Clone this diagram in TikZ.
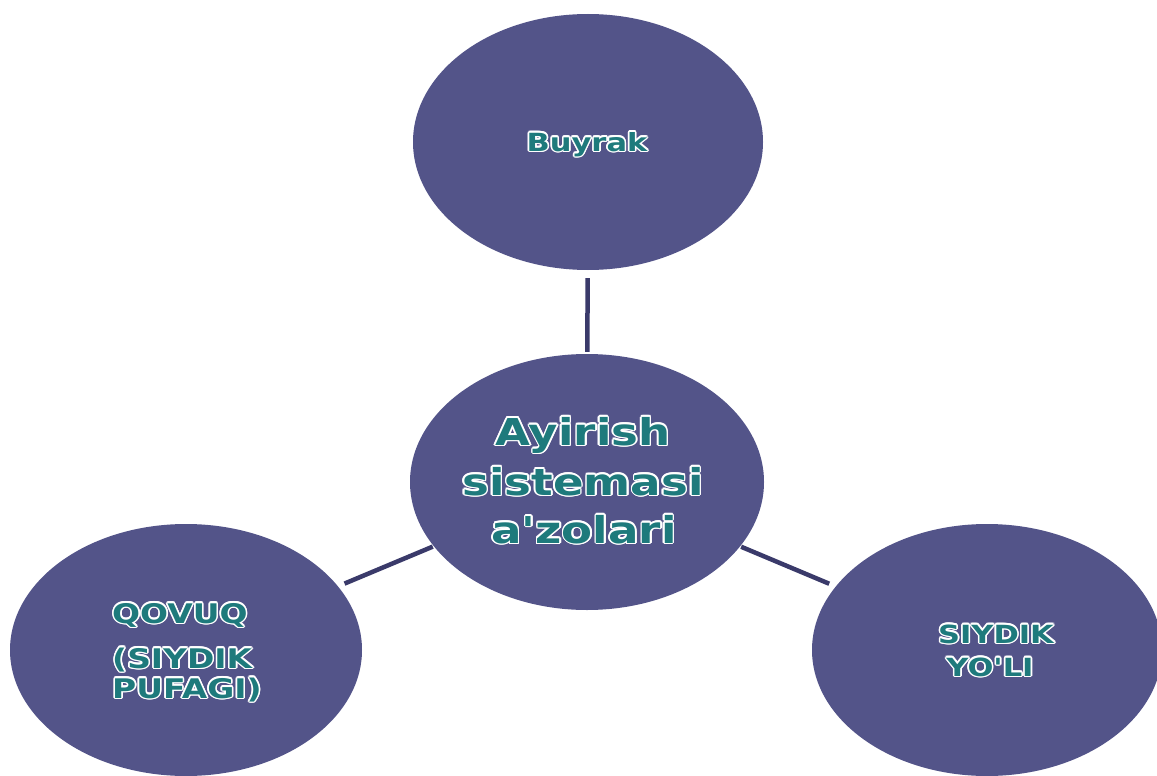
\documentclass[tikz,border=0pt]{standalone}
\usepackage{fontspec}
\usepackage{contour}
\usetikzlibrary{shapes.geometric}
\newfontfamily\wfont[FakeStretch=1.22]{DejaVu Sans}
\definecolor{ellfill}{RGB}{83,84,137}
\definecolor{lineC}{RGB}{58,58,106}
\definecolor{txtC}{RGB}{30,122,124}
\contourlength{1.6pt}
\contournumber{12}
\newcommand{\wart}[1]{\contour{white}{\textcolor{txtC}{#1}}}
\begin{document}
\begin{tikzpicture}[x=1pt,y=-1pt,
  ell/.style={ellipse, fill=ellfill, inner sep=0pt, minimum width=352pt, minimum height=254pt},
  link/.style={draw=lineC, line width=4.5pt},
  lbl/.style={inner sep=0pt, font=\wfont\bfseries},
  bigtxt/.style={lbl, font=\wfont\bfseries\fontsize{37}{44}\selectfont},
  midtxt/.style={lbl, font=\wfont\bfseries\fontsize{25}{30}\selectfont},
  lefttxt/.style={lbl, font=\wfont\bfseries\fontsize{27}{32}\selectfont}]
\useasboundingbox (0,0) rectangle (1157,776);
\fill[white] (0,0) rectangle (1157,776);
\node[ell, minimum width=350pt, minimum height=256pt] (top) at (588,142) {};
\node[ell, minimum width=354pt, minimum height=256pt] (center) at (587,482) {};
\node[ell, minimum height=252pt] (left) at (186,650) {};
\node[ell, minimum width=350pt, minimum height=252pt] (right) at (987,650) {};
\draw[link, shorten <=8pt, shorten >=2pt] (top) -- (center);
\draw[link, shorten <=7pt, shorten >=1pt] (left) -- (center);
\draw[link, shorten <=1pt, shorten >=7pt] (center) -- (right);
\node[midtxt, anchor=base] (tBuyrak) at (587,151) {\wart{Buyrak}};
\node[bigtxt, anchor=base] (tC1) at (583,445) {\wart{Ayirish}};
\node[bigtxt, anchor=base] (tC2) at (583,495) {\wart{sistemasi}};
\node[bigtxt, anchor=base] (tC3) at (584,543) {\wart{a'zolari}};
\node[lefttxt, anchor=base west] (tL1) at (112,623) {\wart{QOVUQ}};
\node[lefttxt, anchor=base west] (tL2) at (112,668) {\wart{(SIYDIK}};
\node[lefttxt, anchor=base west] (tL3) at (112,698) {\wart{PUFAGI)}};
\node[midtxt, anchor=base] (tR1) at (996,643) {\wart{SIYDIK}};
\node[midtxt, anchor=base] (tR2) at (990,676) {\wart{YO'LI}};
\end{tikzpicture}
\end{document}
